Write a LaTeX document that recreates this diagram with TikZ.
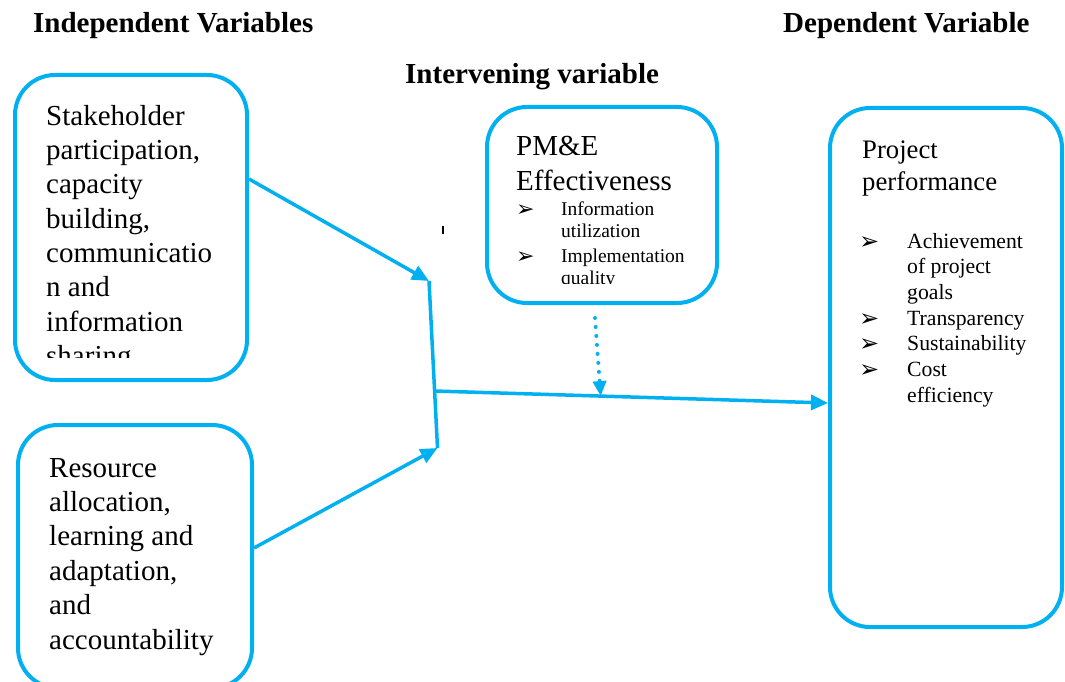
\documentclass[tikz,border=0pt]{standalone}
\usepackage{fontspec}
\setmainfont{Liberation Serif}
\newfontfamily\symfont{DejaVu Sans}
\usetikzlibrary{arrows.meta}
\definecolor{linkblue}{HTML}{00B0F0}
\newcommand\fbig{\fontsize{29}{34.4}\selectfont}
\newcommand\fpme{\fontsize{29}{35}\selectfont}
\newcommand\fperf{\fontsize{26.7}{32}\selectfont}
\newcommand\fsmall{\fontsize{19.5}{22.2}\selectfont}
\newcommand\fbul{\fontsize{21.7}{25.7}\selectfont}
\newcommand\bul[1]{{\symfont\fontsize{#1}{#1}\selectfont ➢}}
% natural word spacing of the serif face
\newcommand\wsp{\spaceskip=0.25em plus 0.1em\relax}
\begin{document}
\begin{tikzpicture}[x=1pt,y=-1pt,
  varbox/.style={draw=linkblue,line width=4pt,rounded corners=40pt,
    rectangle,inner sep=0pt},
  txt/.style={anchor=base west,inner sep=0pt,align=left,text width=#1},
  txt/.default=220pt,
  title/.style={anchor=base west,inner sep=0pt,font=\fbig\bfseries},
  link/.style={draw=linkblue,line width=3.5pt,
    -{Triangle[length=17pt,width=15pt]}},
  bar/.style={draw=linkblue,line width=3.5pt},
  dotlink/.style={draw=linkblue,line width=4pt,line cap=round,
    dash pattern=on 0pt off 9pt,
    -{Triangle[length=15pt,width=13pt,line cap=butt]}}]
\clip (0,0) rectangle (1065,682);

% headings
\node[title] (hInd) at (33,33) {Independent Variables};
\node[title] (hDep) at (783,33) {Dependent Variable};
\node[title] (hInt) at (405,84) {Intervening variable};

% boxes
\node[varbox,minimum width=232pt,minimum height=305pt] (b1) at (131,227.5) {};
\node[varbox,minimum width=234pt,minimum height=263pt] (b2) at (135,556.5) {};
\node[varbox,minimum width=230pt,minimum height=196pt] (b3) at (602,205) {};
\node[varbox,minimum width=232pt,minimum height=519pt] (b4) at (946,367.5) {};

% box texts
\begin{scope}
  \clip (20,80) rectangle (242,357);
  \node[txt,font=\fbig] (t1) at (46,125) {\wsp Stakeholder\\participation,\\capacity\\building,\\communicatio\\n and\\information\\sharing};
\end{scope}
\node[txt,font=\fbig] (t2) at (49,477) {\wsp Resource\\allocation,\\learning and\\adaptation,\\and\\accountability};

\node[txt,font=\fpme] (t3) at (516,155) {PM\&E\\Effectiveness};
\node[anchor=base west,inner sep=0pt] (k1) at (516,216) {\bul{22}};
\node[txt=150pt,font=\fsmall] (u1) at (561,215) {Information\\utilization};
\begin{scope}
  \clip (500,240) rectangle (710,283.5);
  \node[anchor=base west,inner sep=0pt] (k2) at (516,263) {\bul{22}};
  \node[txt=150pt,font=\fsmall] (u2) at (561,262) {Implementation\\quality};
\end{scope}

\node[txt,font=\fperf] (t4) at (862,158) {Project\\performance};
\node[txt=150pt,font=\fbul] (u4) at (907,248) {\wsp Achievement\\of project\\goals\\Transparency\\Sustainability\\Cost\\efficiency};
\foreach \yy [count=\i] in {248,325.1,350.8,376.5}
  \node[anchor=base west,inner sep=0pt] (m\i) at (859,\yy+1) {\bul{24}};

% stray mark
\draw[line width=2pt] (443,226) -- (443,234);

% junction points
\coordinate (j1) at (429,281);
\coordinate (j2) at (437.5,448);
\coordinate (jm) at (434,391);
\coordinate (e4) at ([yshift=-35.5pt]b4.west);

% connectors
\draw[link] ([yshift=48.5pt]b1.east) -- (j1);
\draw[link] ([yshift=8.5pt]b2.east) -- (j2);
\draw[bar] (j1) -- (j2);
\draw[link] (jm) -- (e4);
\path (jm) -- (e4) coordinate[pos=0.423] (dm);
\draw[dotlink] ([shift={(-7pt,-13pt)}]b3.south) -- (dm);
\end{tikzpicture}
\end{document}
